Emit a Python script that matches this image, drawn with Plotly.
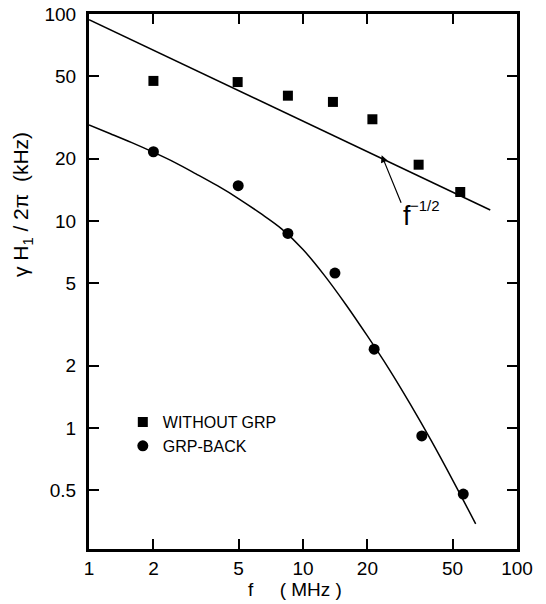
import numpy as np
import plotly.graph_objects as go

# Data
freq_sq = [2.0, 4.95, 8.5, 13.8, 21.1, 34.7, 54.3]
h1_sq = [47.5, 46.9, 40.3, 37.6, 31.0, 18.7, 13.8]

freq_ci = [2.0, 4.98, 8.5, 14.1, 21.5, 35.9, 56.1]
h1_ci = [21.6, 14.8, 8.7, 5.6, 2.40, 0.915, 0.479]

# f^-1/2 reference line
line_f = [1.0, 75.0]
line_h = [94.0, 11.3]

# smooth curve drawn through GRP-BACK data
curve_f = [1.0, 1.259, 1.585, 1.995, 2.512, 3.162, 3.981, 5.012, 6.310, 7.943,
           10.0, 12.59, 15.85, 19.95, 25.12, 31.62, 39.81, 50.12, 64.1]
curve_h = [29.1, 26.4, 23.9, 21.5, 19.2, 16.9, 14.8, 12.8, 10.9, 9.16,
           7.28, 5.46, 3.95, 2.79, 1.94, 1.31, 0.865, 0.558, 0.344]

x_ticks = [1, 2, 5, 10, 20, 50, 100]
x_labels = ["1", "2", "5", "10", "20", "50", "100"]
y_ticks = [0.5, 1, 2, 5, 10, 20, 50, 100]
y_labels = ["0.5", "1", "2", "5", "10", "20", "50", "100"]

FONT = "Liberation Sans, Arial, sans-serif"

fig = go.Figure()
fig.add_trace(go.Scatter(x=line_f, y=line_h, mode="lines",
                         line=dict(color="black", width=1.5), showlegend=False,
                         hoverinfo="skip"))
fig.add_trace(go.Scatter(x=curve_f, y=curve_h, mode="lines",
                         line=dict(color="black", width=1.5, shape="spline", smoothing=1.0),
                         showlegend=False, hoverinfo="skip"))
fig.add_trace(go.Scatter(x=freq_sq, y=h1_sq, mode="markers", name="WITHOUT GRP",
                         marker=dict(symbol="square", size=10, color="black")))
fig.add_trace(go.Scatter(x=freq_ci, y=h1_ci, mode="markers", name="GRP-BACK",
                         marker=dict(symbol="circle", size=11, color="black")))

axis_common = dict(
    showgrid=False, zeroline=False, showline=True, linecolor="black", linewidth=3,
    mirror="allticks", ticks="inside", ticklen=10, tickwidth=1.5, tickcolor="black",
    tickfont=dict(family=FONT, size=19, color="black"), automargin=False,
)
fig.update_xaxes(type="log", range=[0, 2], tickvals=x_ticks, ticktext=x_labels, **axis_common)
fig.update_yaxes(type="log", range=[np.log10(0.26), 2.0], tickvals=y_ticks, ticktext=y_labels,
                 ticklabelstandoff=6, **axis_common)

# "f" label with arrow pointing at the f^-1/2 line, plus the exponent
fig.add_annotation(x=np.log10(23.3), y=np.log10(20.8), xref="x", yref="y", text="f",
                   showarrow=True, arrowhead=2, arrowsize=1.2, arrowwidth=1.2,
                   arrowcolor="black", ax=25, ay=61,
                   font=dict(family=FONT, size=27, color="black"))
fig.add_annotation(x=np.log10(37.2), y=np.log10(11.9), xref="x", yref="y", text="−1/2",
                   showarrow=False, font=dict(family=FONT, size=15, color="black"))

fig.add_annotation(x=0.481, y=-0.0766, xref="paper", yref="paper", text="f     ( MHz )",
                   xanchor="center", yanchor="middle",
                   showarrow=False, font=dict(family=FONT, size=19, color="black"))
fig.add_annotation(x=-0.155, y=0.644, xref="paper", yref="paper",
                   text="γ H<sub>1</sub> / 2π  (kHz)", textangle=-90,
                   xanchor="center", yanchor="middle",
                   showarrow=False, font=dict(family=FONT, size=21, color="black"))

fig.update_layout(
    width=546, height=604,
    margin=dict(l=89, r=29, t=14, b=55, autoexpand=False),
    paper_bgcolor="white", plot_bgcolor="white",
    font=dict(family=FONT, color="black"),
    legend=dict(x=0.079, y=0.269, xanchor="left", yanchor="top",
                bgcolor="rgba(0,0,0,0)", font=dict(family=FONT, size=16, color="black"),
                tracegroupgap=0, itemwidth=30),
)

fig.write_html("out.html", config={"displayModeBar": False},
               post_script="document.body.style.margin='0';document.body.style.overflow='hidden';")
